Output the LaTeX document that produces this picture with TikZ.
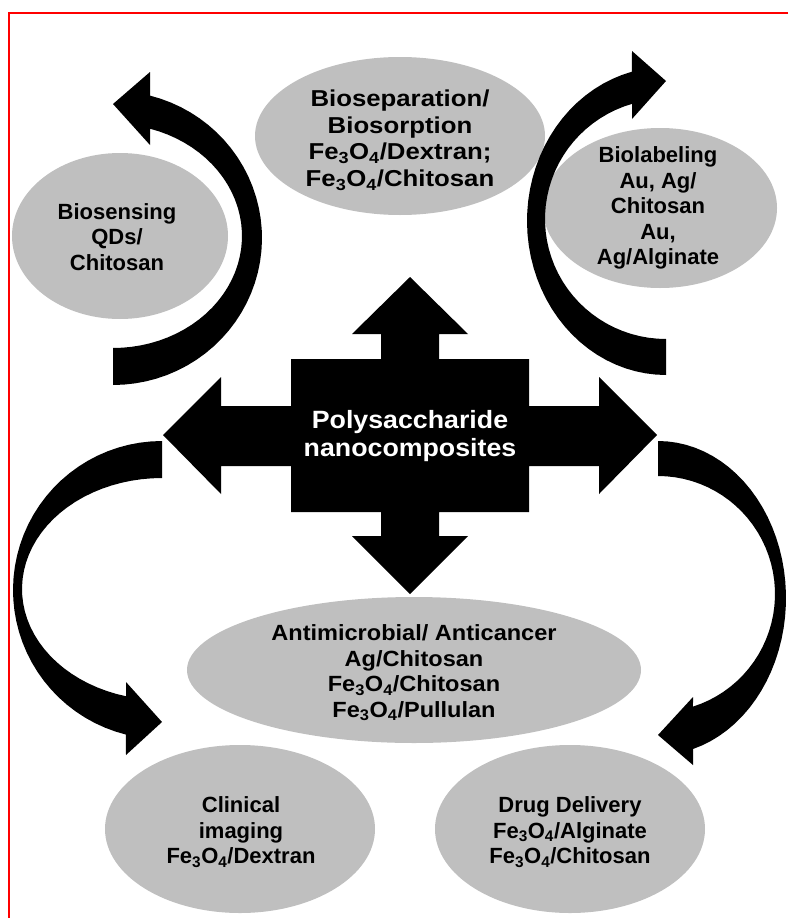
\documentclass[tikz,border=0pt]{standalone}
\usepackage{fontspec}
\setmainfont{Liberation Sans}
\newfontfamily\widefont{Liberation Sans}[FakeStretch=1.12]
\newfontfamily\semiwidefont{Liberation Sans}[FakeStretch=1.07]
\usetikzlibrary{shapes.geometric}
\definecolor{blobgray}{RGB}{191,191,191}
\definecolor{framered}{RGB}{255,0,0}
\newcommand{\ferox}{Fe\textsubscript{3}O\textsubscript{4}}

\begin{document}
\begin{tikzpicture}[x=1pt,y=-1pt,
  blob/.style={ellipse, fill=blobgray, inner sep=0pt},
  txt/.style={align=center, font=\bfseries\fontsize{22}{25.5}\selectfont}]
\useasboundingbox (0,0) rectangle (788,918);

% Rahmen
\draw[framered, line width=1.4pt] (788,13) -- (9,13) -- (9,918);

% Ellipsen
\node[blob, minimum width=290, minimum height=158] (sep) at (400,136) {};
\node[blob, minimum width=216, minimum height=166] (sens) at (120,236) {};
\node[blob, minimum width=234, minimum height=160] (lab) at (660,208) {};
\node[blob, minimum width=454, minimum height=146] (anti) at (414,670) {};
\node[blob, minimum width=270, minimum height=168] (clin) at (240,829) {};
\node[blob, minimum width=270, minimum height=168] (drug) at (570,829) {};

% Texte in den Ellipsen
\node[txt, font=\widefont\bfseries\fontsize{23}{26.7}\selectfont] (septxt) at (400,140)
  {Bioseparation/\\Biosorption\\\ferox/Dextran;\\\ferox/Chitosan};
\node[txt] (senstxt) at (117,237) {Biosensing\\QDs/\\Chitosan};
\node[txt] (labtxt) at (658,208) {Biolabeling\\Au, Ag/\\Chitosan\\Au,\\Ag/Alginate};
\node[txt, font=\semiwidefont\bfseries\fontsize{22}{25.5}\selectfont] (antitxt) at (414,673)
  {Antimicrobial/ Anticancer\\Ag/Chitosan\\\ferox/Chitosan\\\ferox/Pullulan};
\node[txt] (clintxt) at (241,832) {Clinical\\imaging\\\ferox/Dextran};
\node[txt] (drugtxt) at (570,832) {Drug Delivery\\\ferox/Alginate\\\ferox/Chitosan};

% Kreuzpfeil in der Mitte
\fill (410,277) -- (468,334) -- (439,334) -- (439,359) -- (529,359) -- (529,406)
  -- (599,406) -- (599,377) -- (657,435) -- (599,494) -- (599,466) -- (529,466)
  -- (529,512) -- (439,512) -- (439,536) -- (468,536) -- (410,594) -- (352,536)
  -- (381,536) -- (381,512) -- (291,512) -- (291,466) -- (221,466) -- (221,494)
  -- (163,435) -- (221,377) -- (221,406) -- (291,406) -- (291,359) -- (381,359)
  -- (381,334) -- (352,334) -- cycle;
\node[white, align=center, font=\semiwidefont\bfseries\fontsize{25}{28}\selectfont] (hub) at (410,436)
  {Polysaccharide\\nanocomposites};

% gebogener Pfeil oben links
\fill plot[domain=90:-75.6, samples=40] ({113+149*cos(\x)},{238+147*sin(\x)})
  -- (150,72) -- (113,104) -- (150,145)
  -- plot[domain=-73.3:90, samples=40] ({113+129*cos(\x)},{236+112*sin(\x)}) -- cycle;

% gebogener Pfeil oben rechts
\fill plot[domain=90:255.8, samples=40] ({666+139*cos(\x)},{221+154*sin(\x)})
  -- (632,51) -- (666,81) -- (632,119)
  -- plot[domain=253.7:90, samples=40] ({666+121*cos(\x)},{219+120*sin(\x)}) -- cycle;

% gebogener Pfeil unten links
\fill plot[domain=-90:-256, samples=40] ({162+149*cos(\x)},{590+149*sin(\x)})
  -- (126,755) -- (162,722) -- (126,682)
  -- plot[domain=-255.1:-90, samples=40] ({162+140*cos(\x)},{589+111*sin(\x)}) -- cycle;

% gebogener Pfeil unten rechts
\fill plot[domain=-90:74.1, samples=40] ({658+128*cos(\x)},{598+157*sin(\x)})
  -- (693,765) -- (658,735) -- (693,697)
  -- plot[domain=72.6:-90, samples=40] ({658+117*cos(\x)},{594+118*sin(\x)}) -- cycle;

\end{tikzpicture}
\end{document}
